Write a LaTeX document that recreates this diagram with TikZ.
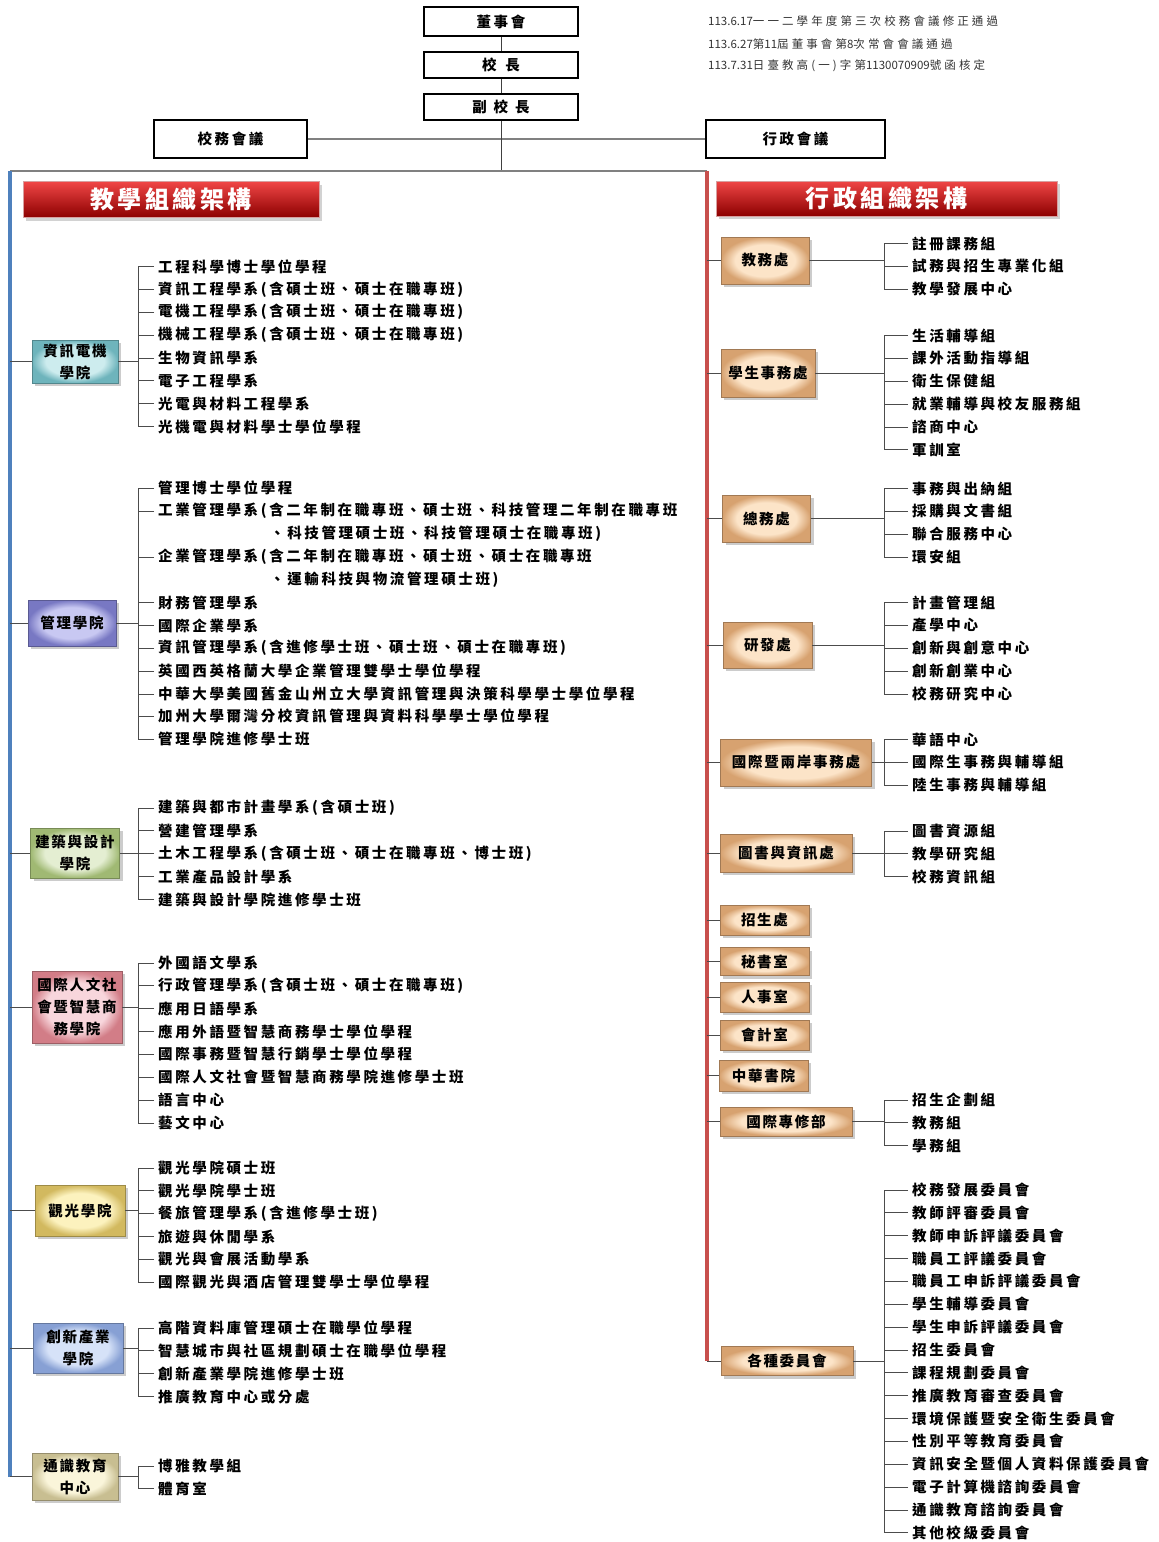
\documentclass[tikz,border=0pt]{standalone}
\usepackage{fontspec}
\usetikzlibrary{shadows}
\newfontfamily\cjkitem{Noto Sans CJK TC}[LetterSpace=18]
\newfontfamily\cjkbox{Noto Sans CJK TC}[LetterSpace=12]
\newfontfamily\cjkbanner{Noto Sans CJK TC}[LetterSpace=15]
\newfontfamily\cjknote{Noto Sans CJK TC}[LetterSpace=27]
\newfontfamily\cjknum{Noto Sans CJK TC}
\definecolor{blueline}{RGB}{79,129,189}
\definecolor{redline}{RGB}{200,80,77}
\definecolor{bannerhi}{RGB}{240,70,70}
\definecolor{bannermid}{RGB}{200,10,10}
\definecolor{bannerlo}{RGB}{140,0,0}
\definecolor{banneredge}{RGB}{215,160,160}
\definecolor{tealin}{RGB}{205,236,238}\definecolor{tealout}{RGB}{110,180,188}
\definecolor{purin}{RGB}{200,200,242}\definecolor{purout}{RGB}{120,120,195}
\definecolor{grnin}{RGB}{228,238,210}\definecolor{grnout}{RGB}{160,185,115}
\definecolor{pnkin}{RGB}{248,214,220}\definecolor{pnkout}{RGB}{210,125,135}
\definecolor{ylwin}{RGB}{252,242,190}\definecolor{ylwout}{RGB}{210,185,95}
\definecolor{bluin}{RGB}{214,226,248}\definecolor{bluout}{RGB}{135,160,212}
\definecolor{crmin}{RGB}{250,245,218}\definecolor{crmout}{RGB}{200,190,145}
\definecolor{pchin}{RGB}{252,228,200}\definecolor{pchout}{RGB}{215,162,112}
\colorlet{bvin}{white}\colorlet{bvout}{gray}
\pgfdeclareradialshading[bvin,bvout]{bevelsh}{\pgfpoint{0bp}{0bp}}{color(0bp)=(bvin); color(17bp)=(bvin); color(25bp)=(bvout); color(50bp)=(bvout)}
\tikzset{
  itm/.style={anchor=west, inner xsep=4pt, inner ysep=1pt,
    font=\cjkitem\bfseries\fontsize{14.5}{16}\selectfont},
  brk/.style={draw=black!70, line width=0.8pt},
  topline/.style={draw=black!75, line width=1pt},
  grayline/.style={draw=black!50, line width=1.5pt},
  topbox/.style={draw=black, line width=1.8pt, fill=white, inner sep=0pt,
    minimum width=154pt, font=\cjkitem\bfseries\fontsize{14.5}{16}\selectfont},
  bevel/.style 2 args={/utils/exec={\colorlet{bvin}{#1}\colorlet{bvout}{#2}},
    shading=bevelsh, draw=#2!75!black,
    line width=0.8pt, inner sep=0pt, align=center,
    drop shadow={opacity=0.4, shadow xshift=3pt, shadow yshift=-3pt},
    font=\cjkbox\bfseries\fontsize{14.5}{22}\selectfont},
  banner/.style={top color=bannerhi, middle color=bannermid, bottom color=bannerlo,
    draw=banneredge, line width=1pt, inner sep=0pt, text=white,
    drop shadow={opacity=0.35, shadow xshift=3pt, shadow yshift=-3pt},
    font=\cjkbanner\bfseries\fontsize{24}{28}\selectfont},
  note/.style={anchor=west, inner sep=0pt, text=black!80,
    font=\cjknote\fontsize{11.5}{13}\selectfont}
}
% #1 name, #2 parent, #3 bracket x, #4 text offset, #5 first y, #6 count, #7 list
\newcommand{\branch}[7]{%
  \coordinate (#1t) at (#3,#5);
  \coordinate (#1b) at (#3,{#5+22.85*(#6-1)});
  \draw[brk] (#1t) -- (#1b);
  \draw[brk] (#2.east) -- (#2.east -| #1t);
  \foreach \txt [count=\i] in {#7} {
    \node[itm] (#1\i) at ({#3+#4},{#5+22.85*(\i-1)}) {\txt};
    \draw[brk] (#1\i.west) -- (#1\i.west -| #1t);
  }
}
\begin{document}
\begin{tikzpicture}[x=1pt,y=-1pt]
\fill[white] (0,0) rectangle (1159,1542);
\useasboundingbox (0,0) rectangle (1159,1542);

% ---------- top ----------
\node[topbox, minimum height=29pt] (dsh) at (501,21.5) {董事會};
\node[topbox, minimum height=26pt] (xz) at (501,65) {校\hspace{9pt}長};
\node[topbox, minimum height=26pt] (fxz) at (501,107) {副\hspace{7pt}校\hspace{7pt}長};
\node[topbox, minimum width=153pt, minimum height=38pt] (xwhy) at (230.5,139) {校務會議};
\node[topbox, minimum width=179pt, minimum height=38pt] (xzhy) at (795.5,139) {行政會議};

\node[note] (n1) at (708,21) {{\cjknum 113.6.17}一一二學年度第三次校務會議修正通過};
\node[note] (n2) at (708,44) {{\cjknum 113.6.27}第{\cjknum 11}屆董事會第{\cjknum 8}次常會會議通過};
\node[note] (n3) at (708,66) {{\cjknum 113.7.31}日臺教高(一)字第{\cjknum 1130070909}號函核定};

\coordinate (jc) at (501,171);
\coordinate (tl) at (10,171);
\coordinate (tr) at (707,171);
\coordinate (bl) at (10,1476.5);
\coordinate (rb) at (707,1361);
\draw[topline] (dsh) -- (xz);
\draw[topline] (xz) -- (fxz);
\draw[grayline] (xwhy) -- (xzhy);
\draw[topline] (fxz) -- (jc);
\draw[grayline] (tl) -- (tr);
\draw[blueline, line width=4pt] (tl) -- (bl);
\draw[redline, line width=4pt] (tr) -- (rb);

% ---------- banners ----------
\node[banner, minimum width=296pt, minimum height=36pt] (bn1) at (171,199.5) {教學組織架構};
\node[banner, minimum width=341pt, minimum height=35pt] (bn2) at (886.5,198.5) {行政組織架構};

% ---------- colleges ----------
\node[bevel={tealin}{tealout}, minimum width=86pt, minimum height=43pt] (c1) at (75,361.5) {資訊電機\\學院};
\node[bevel={purin}{purout}, minimum width=88pt, minimum height=46pt] (c2) at (72,623) {管理學院};
\node[bevel={grnin}{grnout}, minimum width=89pt, minimum height=50pt] (c3) at (75,853) {建築與設計\\學院};
\node[bevel={pnkin}{pnkout}, minimum width=90pt, minimum height=72pt] (c4) at (77,1007) {國際人文社\\會暨智慧商\\務學院};
\node[bevel={ylwin}{ylwout}, minimum width=90pt, minimum height=51pt] (c5) at (80,1210.5) {觀光學院};
\node[bevel={bluin}{bluout}, minimum width=90pt, minimum height=50pt] (c6) at (78,1348) {創新產業\\學院};
\node[bevel={crmin}{crmout}, minimum width=86pt, minimum height=47pt] (c7) at (75,1476.5) {通識教育\\中心};
\foreach \c in {c1,c2,c3,c4,c5,c6,c7} \draw[brk] (\c.west) -- (\c.west -| tl);

\branch{a}{c1}{138}{16}{266.5}{8}{工程科學博士學位學程,資訊工程學系(含碩士班、碩士在職專班),電機工程學系(含碩士班、碩士在職專班),機械工程學系(含碩士班、碩士在職專班),生物資訊學系,電子工程學系,光電與材料工程學系,光機電與材料學士學位學程}

\coordinate (mgt) at (138,488);
\coordinate (mgb) at (138,739);
\draw[brk] (mgt) -- (mgb);
\draw[brk] (c2.east) -- (c2.east -| mgt);
\foreach \yy/\txt [count=\i] in {488/管理博士學位學程,511/工業管理學系(含二年制在職專班、碩士班、科技管理二年制在職專班,557/企業管理學系(含二年制在職專班、碩士班、碩士在職專班,602.5/財務管理學系,625.5/國際企業學系,648/資訊管理學系(含進修學士班、碩士班、碩士在職專班),671/英國西英格蘭大學企業管理雙學士學位學程,694/中華大學美國舊金山州立大學資訊管理與決策科學學士學位學程,716.5/加州大學爾灣分校資訊管理與資料科學學士學位學程,739/管理學院進修學士班} {
  \node[itm] (m\i) at (154,\yy) {\txt};
  \draw[brk] (m\i.west) -- (m\i.west -| mgt);
}
\node[itm] (m2b) at (266,534) {、科技管理碩士班、科技管理碩士在職專班)};
\node[itm] (m3b) at (266,580) {、運輸科技與物流管理碩士班)};

\branch{b}{c3}{138}{16}{808}{5}{建築與都市計畫學系(含碩士班),營建管理學系,土木工程學系(含碩士班、碩士在職專班、博士班),工業產品設計學系,建築與設計學院進修學士班}
\branch{d}{c4}{138}{16}{963}{8}{外國語文學系,行政管理學系(含碩士班、碩士在職專班),應用日語學系,應用外語暨智慧商務學士學位學程,國際事務暨智慧行銷學士學位學程,國際人文社會暨智慧商務學院進修學士班,語言中心,藝文中心}
\branch{e}{c5}{138}{16}{1168}{6}{觀光學院碩士班,觀光學院學士班,餐旅管理學系(含進修學士班),旅遊與休閒學系,觀光與會展活動學系,國際觀光與酒店管理雙學士學位學程}
\branch{f}{c6}{138}{16}{1328}{4}{高階資料庫管理碩士在職學位學程,智慧城市與社區規劃碩士在職學位學程,創新產業學院進修學士班,推廣教育中心或分處}
\branch{g}{c7}{138}{16}{1466}{2}{博雅教學組,體育室}

% ---------- administration ----------
\node[bevel={pchin}{pchout}, minimum width=88pt, minimum height=47pt] (r1) at (765,260.5) {教務處};
\node[bevel={pchin}{pchout}, minimum width=94pt, minimum height=48pt] (r2) at (768,373) {學生事務處};
\node[bevel={pchin}{pchout}, minimum width=88pt, minimum height=47pt] (r3) at (766.5,518.5) {總務處};
\node[bevel={pchin}{pchout}, minimum width=89pt, minimum height=46pt] (r4) at (767.5,645) {研發處};
\node[bevel={pchin}{pchout}, minimum width=151pt, minimum height=47pt] (r5) at (796,762.5) {國際暨兩岸事務處};
\node[bevel={pchin}{pchout}, minimum width=132pt, minimum height=38pt] (r6) at (786,853) {圖書與資訊處};
\node[bevel={pchin}{pchout}, minimum width=89pt, minimum height=30pt] (r7) at (764.5,920) {招生處};
\node[bevel={pchin}{pchout}, minimum width=89pt, minimum height=28pt] (r8) at (764.5,961.5) {秘書室};
\node[bevel={pchin}{pchout}, minimum width=89pt, minimum height=30pt] (r9) at (764.5,997) {人事室};
\node[bevel={pchin}{pchout}, minimum width=89pt, minimum height=30pt] (r10) at (764.5,1035) {會計室};
\node[bevel={pchin}{pchout}, minimum width=89pt, minimum height=31pt] (r11) at (763.5,1075.5) {中華書院};
\node[bevel={pchin}{pchout}, minimum width=132pt, minimum height=29pt] (r12) at (786,1121.5) {國際專修部};
\node[bevel={pchin}{pchout}, minimum width=132pt, minimum height=29pt] (r13) at (787,1361) {各種委員會};
\foreach \r in {r1,r2,r3,r4,r5,r6,r7,r8,r9,r10,r11,r12,r13} \draw[brk] (\r.west) -- (\r.west -| tr);

\branch{p}{r1}{884}{24}{243.5}{3}{註冊課務組,試務與招生專業化組,教學發展中心}
\branch{q}{r2}{884}{24}{335.5}{6}{生活輔導組,課外活動指導組,衛生保健組,就業輔導與校友服務組,諮商中心,軍訓室}
\branch{s}{r3}{884}{24}{488.5}{4}{事務與出納組,採購與文書組,聯合服務中心,環安組}
\branch{u}{r4}{884}{24}{602.5}{5}{計畫管理組,產學中心,創新與創意中心,創新創業中心,校務研究中心}
\branch{v}{r5}{884}{24}{739.5}{3}{華語中心,國際生事務與輔導組,陸生事務與輔導組}
\branch{w}{r6}{884}{24}{831}{3}{圖書資源組,教學研究組,校務資訊組}
\branch{x}{r12}{884}{24}{1100}{3}{招生企劃組,教務組,學務組}
\branch{z}{r13}{884}{24}{1190}{16}{校務發展委員會,教師評審委員會,教師申訴評議委員會,職員工評議委員會,職員工申訴評議委員會,學生輔導委員會,學生申訴評議委員會,招生委員會,課程規劃委員會,推廣教育審查委員會,環境保護暨安全衛生委員會,性別平等教育委員會,資訊安全暨個人資料保護委員會,電子計算機諮詢委員會,通識教育諮詢委員會,其他校級委員會}
\end{tikzpicture}
\end{document}
